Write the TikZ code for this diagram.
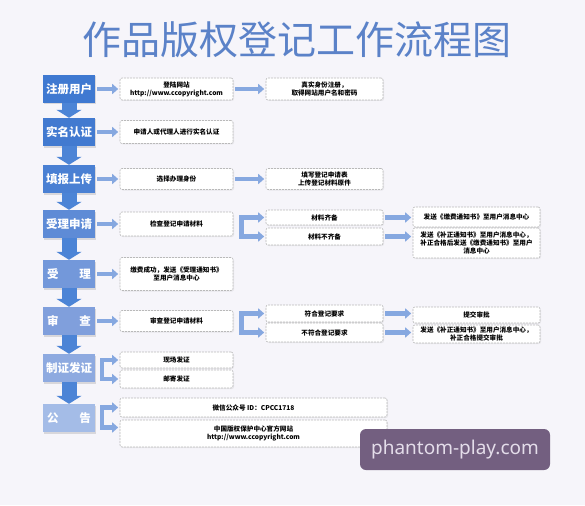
\documentclass[tikz,border=0pt]{standalone}
\usepackage{fontspec}
\setmainfont{Noto Sans CJK SC}
\newfontfamily\wmfont{Noto Sans}
\usepackage{xcolor}
\usepackage{tikz}
\usetikzlibrary{arrows.meta,calc,shadows}
\definecolor{bgpaper}{HTML}{F6F5FA}
\definecolor{titleblue}{HTML}{5B82C8}
\definecolor{stepA}{HTML}{3F79D1}
\definecolor{stepB}{HTML}{427AD0}
\definecolor{stepC}{HTML}{4A80D3}
\definecolor{stepD}{HTML}{5E8BD6}
\definecolor{stepE}{HTML}{7398DA}
\definecolor{stepF}{HTML}{809FDC}
\definecolor{stepG}{HTML}{8EAAE0}
\definecolor{stepH}{HTML}{A4BCE7}
\definecolor{downblue}{HTML}{4C84D6}
\definecolor{arrblue}{HTML}{86A8E0}
\definecolor{wmpurple}{HTML}{735F80}
\definecolor{wmtext}{HTML}{E4DDEA}
\tikzset{
  stepbox/.style={rectangle, fill=#1, minimum width=52pt, minimum height=28pt,
              inner sep=0pt, text=white, font=\fontsize{11.5}{12}\selectfont\bfseries,
              drop shadow={opacity=0.25, shadow xshift=1pt, shadow yshift=-1.5pt}},
  infobox/.style n args={2}{rectangle, draw=gray!55, dash pattern=on 2pt off 1pt,
              line width=0.6pt, fill=white, rounded corners=2pt, inner sep=1pt,
              minimum width=#1, minimum height=#2, align=center,
              font=\fontsize{6.6}{8}\selectfont\bfseries,
              drop shadow={opacity=0.12, shadow xshift=1pt, shadow yshift=-1pt}},
  flowarr/.style={draw=arrblue, line width=4.5pt, shorten <=2pt, shorten >=1.5pt,
              -{Triangle[length=6pt,width=10pt]}},
  brkbar/.style={draw=arrblue, line width=4.5pt, line cap=rect},
  downarr/.style={draw=downblue, line width=15pt, -{Triangle[length=8pt,width=25pt]}}
}
\begin{document}
\begin{tikzpicture}[x=1pt,y=-1pt]
  \fill[bgpaper] (0,0) rectangle (585,505);
  \useasboundingbox (0,0) rectangle (585,505);
  \node[font=\fontsize{39}{40}\selectfont, text=titleblue] (title) at (297,40)
    {作品版权登记工作流程图};
  % steps
  \node[stepbox=stepA] (s1) at (69,89) {注册用户};
  \node[stepbox=stepB] (s2) at (69,132) {实名认证};
  \node[stepbox=stepC] (s3) at (69,179) {填报上传};
  \node[stepbox=stepD] (s4) at (69,224) {受理申请};
  \node[stepbox=stepE] (s5) at (69,274) {受\hspace{1.8em}理};
  \node[stepbox=stepF] (s6) at (69,321) {审\hspace{1.8em}查};
  \node[stepbox=stepG] (s7) at (69,368) {制证发证};
  \node[stepbox=stepH] (s8) at (69,418) {公\hspace{1.8em}告};
  \draw[downarr] (s1.south) -- (s2.north);
  \draw[downarr] (s2.south) -- (s3.north);
  \draw[downarr] (s3.south) -- (s4.north);
  \draw[downarr] (s4.south) -- (s5.north);
  \draw[downarr] (s5.south) -- (s6.north);
  \draw[downarr] (s6.south) -- (s7.north);
  \draw[downarr] (s7.south) -- (s8.north);
  % first column
  \node[infobox={113pt}{22pt}] (a1) at (176.5,89) {登陆网站\\http://www.ccopyright.com};
  \node[infobox={113pt}{23pt}] (b1) at (176.5,132) {申请人或代理人进行实名认证};
  \node[infobox={113pt}{21pt}] (c1) at (176.5,179) {选择办理身份};
  \node[infobox={113pt}{24pt}] (d1) at (176.5,224) {检查登记申请材料};
  \node[infobox={113pt}{33pt}] (e1) at (176.5,274) {缴费成功，发送《受理通知书》\\至用户消息中心};
  \node[infobox={113pt}{21pt}] (f1) at (176.5,321) {审查登记申请材料};
  \node[infobox={113pt}{16pt}] (g1) at (176.5,360) {现场发证};
  \node[infobox={113pt}{18pt}] (g2) at (176.5,379) {邮寄发证};
  \node[infobox={267pt}{19pt}] (h1) at (253.5,407.5) {微信公众号 ID：CPCC1718};
  \node[infobox={267pt}{27pt}] (h2) at (253.5,433.5) {中国版权保护中心官方网站\\http://www.ccopyright.com};
  % second column
  \node[infobox={117pt}{22pt}] (a2) at (324.5,89) {真实身份注册，\\取得网站用户名和密码};
  \node[infobox={117pt}{21pt}] (c2) at (324.5,179) {填写登记申请表\\上传登记材料原件};
  \node[infobox={117pt}{15pt}] (d2) at (324.5,217.5) {材料齐备};
  \node[infobox={117pt}{17pt}] (d3) at (324.5,236.5) {材料不齐备};
  \node[infobox={117pt}{17pt}] (f2) at (324.5,313.5) {符合登记要求};
  \node[infobox={117pt}{19pt}] (f3) at (324.5,332.5) {不符合登记要求};
  % third column
  \node[infobox={127pt}{20pt}] (d4) at (476.5,217) {发送《缴费通知书》至用户消息中心};
  \node[infobox={127pt}{30pt}] (d5) at (476.5,243)
    {发送《补正通知书》至用户消息中心，\\补正合格后发送《缴费通知书》至用户\\消息中心};
  \node[infobox={127pt}{16pt}] (f4) at (476.5,315) {提交审批};
  \node[infobox={127pt}{18pt}] (f5) at (476.5,334) {发送《补正通知书》至用户消息中心，\\补正合格提交审批};
  % straight arrows
  \draw[flowarr] (s1) -- (a1);
  \draw[flowarr] (s2) -- (b1);
  \draw[flowarr] (s3) -- (c1);
  \draw[flowarr] (s4) -- (d1);
  \draw[flowarr] (s5) -- (e1);
  \draw[flowarr] (s6) -- (f1);
  \draw[flowarr] (a1) -- (a2);
  \draw[flowarr] (c1) -- (c2);
  \draw[flowarr] (d2.east) -- (d2.east -| d4.west);
  \draw[flowarr] (d3.east) -- (d3.east -| d5.west);
  \draw[flowarr] (f2.east) -- (f2.east -| f4.west);
  \draw[flowarr] (f3.east) -- (f3.east -| f5.west);
  % split arrows
  \coordinate (dk) at ($(d1.east)+(8,0)$);
  \draw[brkbar] (dk |- d2) -- (dk |- d3);
  \draw[flowarr, shorten <=0pt] (dk |- d2) -- (d2.west |- d2);
  \draw[flowarr, shorten <=0pt] (dk |- d3) -- (d3.west |- d3);
  \coordinate (fk) at ($(f1.east)+(8,0)$);
  \draw[brkbar] (fk |- f2) -- (fk |- f3);
  \draw[flowarr, shorten <=0pt] (fk |- f2) -- (f2.west |- f2);
  \draw[flowarr, shorten <=0pt] (fk |- f3) -- (f3.west |- f3);
  \coordinate (gk) at ($(s7.east)+(7,0)$);
  \draw[brkbar] (gk |- g1) -- (gk |- g2);
  \draw[flowarr, shorten <=0pt] (gk |- g1) -- (g1.west |- g1);
  \draw[flowarr, shorten <=0pt] (gk |- g2) -- (g2.west |- g2);
  \coordinate (hk) at ($(s8.east)+(7,0)$);
  \draw[brkbar] (hk |- h1) -- ($(hk |- h2)+(0,-6)$);
  \draw[flowarr, shorten <=0pt] (hk |- h1) -- (h1.west |- h1);
  \draw[flowarr, shorten <=0pt] ($(hk |- h2)+(0,-6)$) -- ($(h2.west |- h2)+(0,-6)$);
  % watermark
  \node[fill=wmpurple, rounded corners=6pt, minimum width=190pt, minimum height=41pt,
        text=wmtext, font=\wmfont\fontsize{19}{20}\selectfont] (wmark) at (455,449.5)
    {phantom-play.com};
\end{tikzpicture}
\end{document}
